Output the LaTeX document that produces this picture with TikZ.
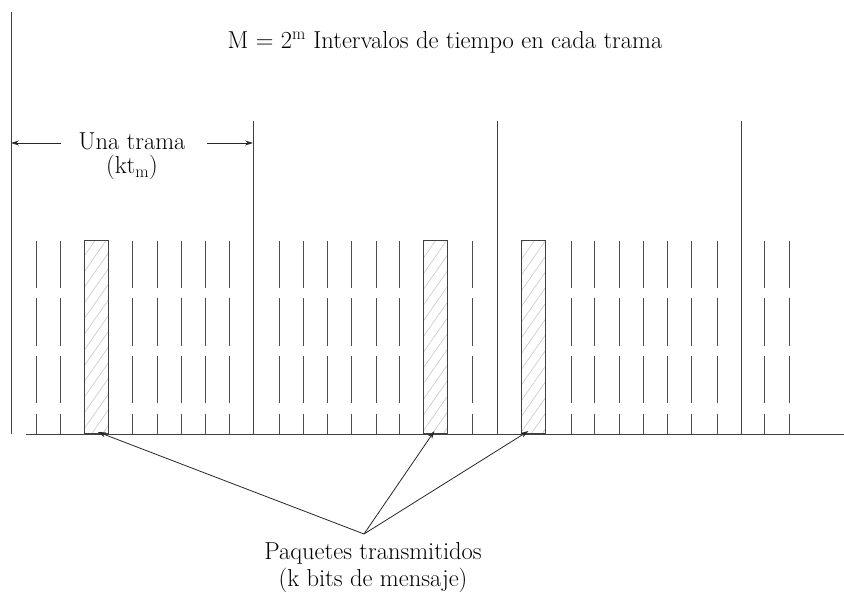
\documentclass[tikz,border=0pt]{standalone}
\usetikzlibrary{arrows.meta,patterns.meta}
\begin{document}
\begin{tikzpicture}[x=1pt,y=-1pt,
  solidline/.style={draw=black!75,line width=0.9pt},
  slotline/.style={draw=black!70,line width=0.9pt,dash pattern=on 47pt off 10.5pt},
  packet/.style={draw=black!75,line width=0.9pt,minimum width=24pt,minimum height=193pt,inner sep=0pt,
    pattern={Lines[angle=55,distance=9pt,line width=0.6pt]},pattern color=black!22},
  txt/.style={font=\fontsize{24.5}{29}\selectfont,inner sep=0pt,align=center},
  ptr/.style={draw=black!85,line width=0.8pt,-{Stealth[length=8pt,width=5pt]}}]
\useasboundingbox (0,0) rectangle (844,596);
% frame lines
\coordinate (f0t) at (11,12);   \coordinate (f0b) at (11,434);
\coordinate (f1t) at (253,121); \coordinate (f1b) at (253,434);
\coordinate (f2t) at (497,121); \coordinate (f2b) at (497,434);
\coordinate (f3t) at (741,121); \coordinate (f3b) at (741,434);
\draw[solidline] (f0t) -- (f0b);
\draw[solidline] (f1t) -- (f1b);
\draw[solidline] (f2t) -- (f2b);
\draw[solidline] (f3t) -- (f3b);
% time axis
\coordinate (ax0) at (26,434); \coordinate (ax1) at (844,434);
\draw[solidline] (ax0) -- (ax1);
% slot boundaries
\foreach \x in {36,60,132,157,181,205,229,279,303,327,351,376,399,472,571,594,619,643,667,691,717,764,789}
  \draw[slotline] (\x,241) -- (\x,434);
% packets
\node[packet,anchor=south west] (b1) at (84,434) {};
\node[packet,anchor=south west] (b2) at (423,434) {};
\node[packet,anchor=south west] (b3) at (521,434) {};
% title
\node[txt] (title) at (445,42) {M = 2$^{\mathrm{m}}$ Intervalos de tiempo en cada trama};
% frame label
\node[txt,anchor=north] (una) at (132,133) {Una trama\\[-5pt](kt$_{\mathrm{m}}$)};
\coordinate (ul) at (61,143); \coordinate (ur) at (207,143);
\draw[ptr] (ul) -- (f0t |- ul);
\draw[ptr] (ur) -- (f1t |- ur);
% packets label
\node[txt,anchor=north] (paq) at (373,542) {Paquetes transmitidos\\[-2pt](k bits de mensaje)};
\coordinate (hub) at (364,534);
\draw[ptr] (hub) -- ([xshift=1.5pt,yshift=2pt]b1.south);
\draw[ptr] (hub) -- ([xshift=-1pt,yshift=3pt]b2.south);
\draw[ptr] (hub) -- ([xshift=-5pt,yshift=3pt]b3.south);
\end{tikzpicture}
\end{document}
